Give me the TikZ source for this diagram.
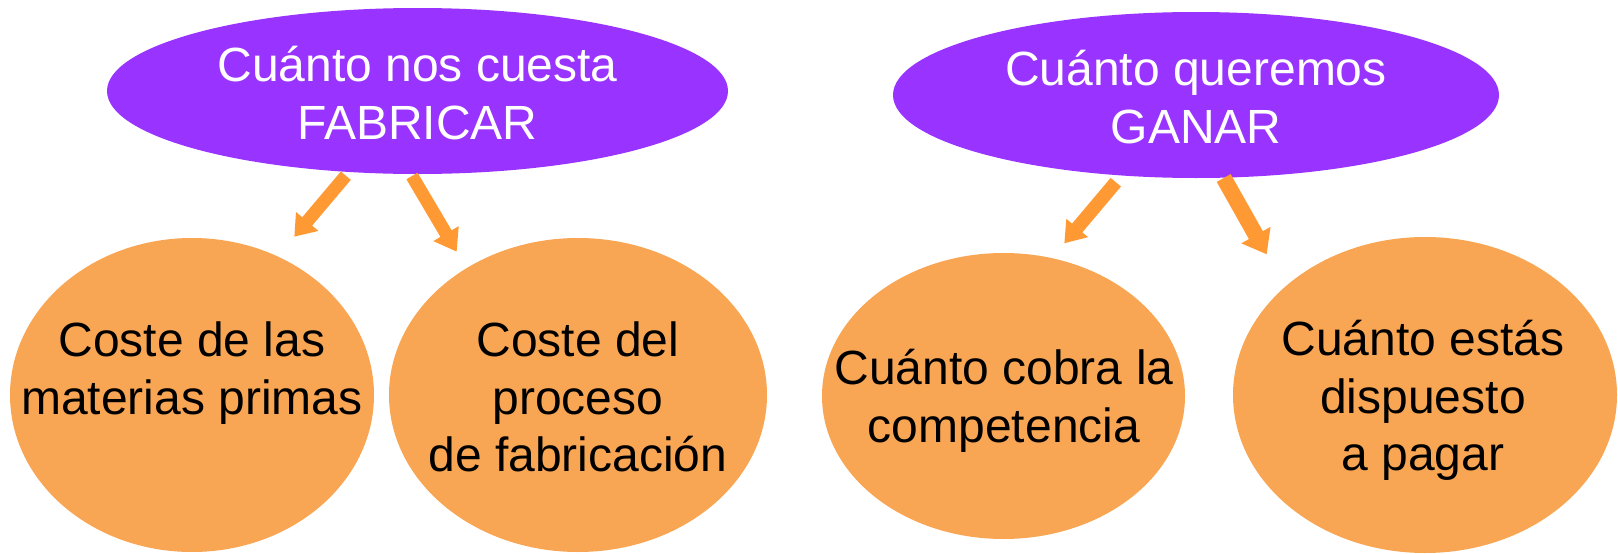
\documentclass[tikz,border=0pt]{standalone}
\usepackage{fontspec}
\setmainfont{Liberation Sans}
\usetikzlibrary{shapes.geometric,arrows.meta}
\definecolor{purp}{HTML}{9933FF}
\definecolor{orfill}{HTML}{F9A654}
\definecolor{arrowc}{HTML}{FF9933}
\begin{document}
\begin{tikzpicture}[x=1pt,y=-1pt,
  topell/.style={ellipse, fill=purp, inner sep=0pt},
  bub/.style={ellipse, fill=orfill, inner sep=0pt},
  lbl/.style={anchor=north, inner sep=0pt, align=center,
    font=\fontsize{48}{57.5}\selectfont},
  arr/.style={draw=arrowc, line cap=butt}
]
\useasboundingbox (0,0) rectangle (1618,554);

% top ellipses
\node[topell, minimum width=621pt, minimum height=166pt] (P1) at (417.5,91) {};
\node[topell, minimum width=606pt, minimum height=166pt] (P2) at (1196,95) {};

% bottom bubbles
\node[bub, minimum width=364pt, minimum height=314pt] (B1) at (192,395) {};
\node[bub, minimum width=378pt, minimum height=314pt] (B2) at (578,395) {};
\node[bub, minimum width=363pt, minimum height=286pt] (B3) at (1003.5,396) {};
\node[bub, minimum width=384pt, minimum height=316pt] (B4) at (1425,395) {};

% texts
\node[lbl, text=white] (T1) at (417.5,46) {Cuánto nos cuesta\\FABRICAR};
\node[lbl, text=white] (T2) at (1196,50) {Cuánto queremos\\GANAR};
\node[lbl] (L1) at (192,322) {Coste de las\\materias primas};
\node[lbl] (L2) at (578,322) {Coste del\\proceso\\de fabricación};
\node[lbl] (L3) at (1004,349) {Cuánto cobra la\\competencia};
\node[lbl] (L4) at (1423,320) {Cuánto estás\\dispuesto\\a pagar};

% arrows
\coordinate (a1s) at (345.8,175.7); \coordinate (a1e) at (294.3,236.7);
\coordinate (a2s) at (412,176);     \coordinate (a2e) at (456.7,251.7);
\coordinate (a3s) at (1115.8,182.2); \coordinate (a3e) at (1064.3,243.3);
\coordinate (a4s) at (1223.7,178);  \coordinate (a4e) at (1266.7,254.3);
\draw[arr, line width=13pt, -{Triangle[width=28pt,length=20pt]}] (a1s) -- (a1e);
\draw[arr, line width=13pt, -{Triangle[width=28pt,length=21pt]}] (a2s) -- (a2e);
\draw[arr, line width=13.5pt, -{Triangle[width=27pt,length=20pt]}] (a3s) -- (a3e);
\draw[arr, line width=16pt, -{Triangle[width=32pt,length=22pt]}] (a4s) -- (a4e);
\end{tikzpicture}
\end{document}
